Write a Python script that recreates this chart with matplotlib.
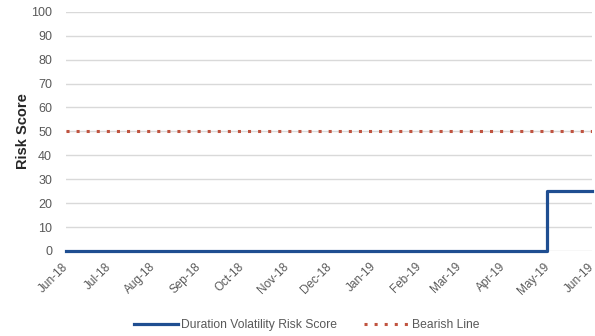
import matplotlib
matplotlib.use("Agg")
import matplotlib.pyplot as plt
import matplotlib.dates as mdates
import pandas as pd

plt.rcParams['font.family'] = ['Liberation Sans', 'DejaVu Sans']

# daily risk score readings
dates = pd.date_range("2018-06-01", "2019-06-01", freq="D")
step_date = pd.Timestamp("2019-05-01")
risk_score = [0 if d < step_date else 25 for d in dates]
bearish_level = 50

fig = plt.figure(figsize=(5.95, 3.36), dpi=100)
ax = fig.add_axes([0.111, 0.253, 0.884, 0.712])

ax.plot(dates, [bearish_level] * len(dates), color='#C0533F', lw=2.2,
        linestyle=(0, (1.0, 2.3)), dash_capstyle='butt', label='Bearish Line')
ax.plot(dates, risk_score, color='#1F4E91', lw=2.3, drawstyle='steps-post',
        label='Duration Volatility Risk Score', zorder=3, clip_on=False)

ax.set_ylim(0, 100)
ax.set_yticks(range(0, 101, 10))
ax.set_xlim(dates[0], dates[-1])
ax.xaxis.set_major_locator(mdates.MonthLocator())
ax.xaxis.set_major_formatter(mdates.DateFormatter('%b-%y'))
ax.grid(axis='y', color='#D9D9D9', lw=1)
ax.set_axisbelow(True)
for s in ax.spines.values():
    s.set_visible(False)
ax.tick_params(length=0, colors='#595959')
ax.tick_params(axis='y', pad=10, labelsize=9)
ax.tick_params(axis='x', pad=10, labelsize=8.5)
plt.setp(ax.get_xticklabels(), rotation=45, ha='right', va='center', rotation_mode='anchor')
ax.set_ylabel('Risk Score', fontsize=10.5, fontweight='bold', color='#262626')
ax.yaxis.set_label_coords(-0.069, 0.5)

handles, labels = ax.get_legend_handles_labels()
fig.legend(handles[::-1], labels[::-1], loc='center', ncol=2, frameon=False,
           bbox_to_anchor=(0.515, 0.033), handlelength=3.7,
           columnspacing=2.2, handletextpad=0.25, labelcolor='#595959',
           prop={'size': 8.7})

fig.savefig('out.png', dpi=100)
